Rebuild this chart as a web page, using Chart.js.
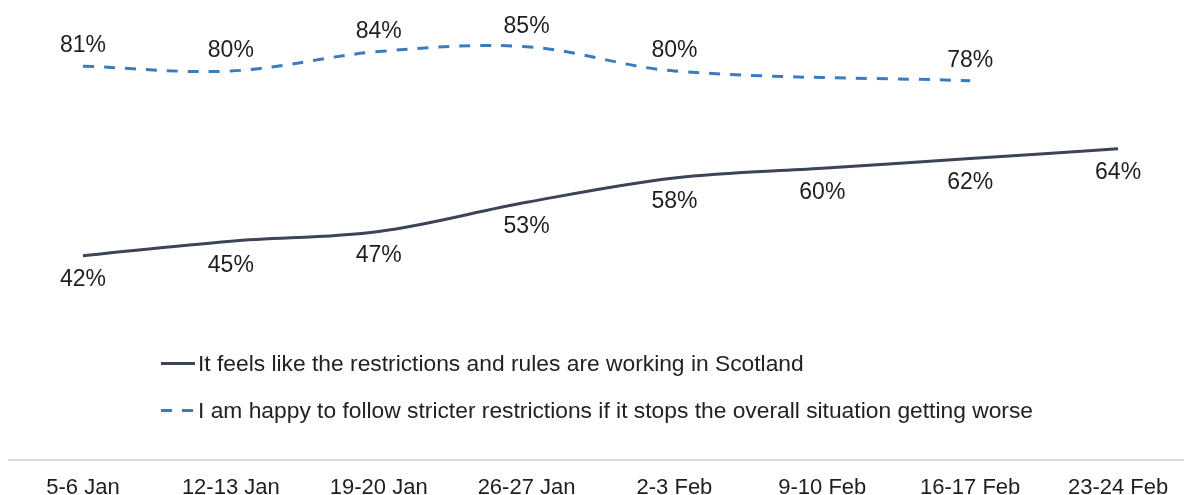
<!DOCTYPE html>
<html>
<head>
<meta charset="utf-8">
<script src="https://cdn.jsdelivr.net/npm/chart.js@4.4.1/dist/chart.umd.min.js"></script>
<style>
    html, body { margin: 0; padding: 0; background: #fff; overflow: hidden; }
    #wrap { position: relative; width: 1192px; height: 495px; }
    #legend {
        position: absolute; left: 161px; top: 351px;
        font-family: "Liberation Sans", Arial, sans-serif; font-size: 22.8px; color: #222;
    }
    .legend-row { display: flex; align-items: center; height: 24px; margin-bottom: 23px; white-space: nowrap; }
    .legend-line { width: 34px; height: 3px; margin-right: 3px; }
    .solid { background: #3c4458; }
    .dashed { background: repeating-linear-gradient(90deg, #3b7cc0 0 11px, transparent 11px 21px); }
</style>
</head>
<body>
<div id="wrap">
    <canvas id="chart" width="1192" height="495"></canvas>
    <div id="legend"></div>
</div>
<script>
// 数据
const labels = ['5-6 Jan', '12-13 Jan', '19-20 Jan', '26-27 Jan', '2-3 Feb', '9-10 Feb', '16-17 Feb', '23-24 Feb'];
const working = [42, 45, 47, 53, 58, 60, 62, 64];
const stricter = [81, 80, 84, 85, 80, null, 78, null];
const seriesNames = [
    'It feels like the restrictions and rules are working in Scotland',
    'I am happy to follow stricter restrictions if it stops the overall situation getting worse'
];

const FONT = '"Liberation Sans", Arial, sans-serif';

// 数据标签插件
const valueLabels = {
    id: 'valueLabels',
    afterDatasetsDraw(chart) {
        const ctx = chart.ctx;
        ctx.save();
        ctx.font = '23px ' + FONT;
        ctx.fillStyle = '#1e1e1e';
        ctx.textAlign = 'center';
        ctx.textBaseline = 'middle';
        chart.data.datasets.forEach((ds, i) => {
            const meta = chart.getDatasetMeta(i);
            meta.data.forEach((pt, j) => {
                const v = ds.data[j];
                if (v === null || v === undefined) return;
                const dy = i === 0 ? 24 : -20;
                ctx.fillText(v + '%', pt.x, pt.y + dy);
            });
        });
        ctx.restore();
    }
};

const ctx = document.getElementById('chart').getContext('2d');
new Chart(ctx, {
    type: 'line',
    data: {
        labels: labels,
        datasets: [{
            label: seriesNames[0],
            data: working,
            borderColor: '#3c4458',
            borderWidth: 3,
            pointRadius: 0,
            tension: 0.35,
            fill: false
        }, {
            label: seriesNames[1],
            data: stricter,
            borderColor: '#3b7cc0',
            borderWidth: 3,
            borderDash: [11, 10],
            pointRadius: 0,
            tension: 0.35,
            spanGaps: true,
            fill: false
        }]
    },
    options: {
        responsive: false,
        animation: false,
        layout: { padding: { left: 9, right: 0, top: 0, bottom: 0 } },
        plugins: {
            legend: { display: false },
            tooltip: { enabled: false }
        },
        scales: {
            x: {
                offset: true,
                grid: { display: false, drawTicks: false },
                border: { display: true, color: '#d9d9d9', width: 2 },
                ticks: { color: '#1e1e1e', font: { family: FONT, size: 22 }, padding: 15, maxRotation: 0, autoSkip: false },
                afterFit: (scale) => { scale.height = 35; }
            },
            y: {
                display: false,
                min: 0,
                max: 94.6
            }
        }
    },
    plugins: [valueLabels]
});

// 图例
document.getElementById('legend').innerHTML = seriesNames.map((name, i) => `
    <div class="legend-row">
        <div class="legend-line ${i === 0 ? 'solid' : 'dashed'}"></div>
        <span>${name}</span>
    </div>
`).join('');
</script>
</body>
</html>
